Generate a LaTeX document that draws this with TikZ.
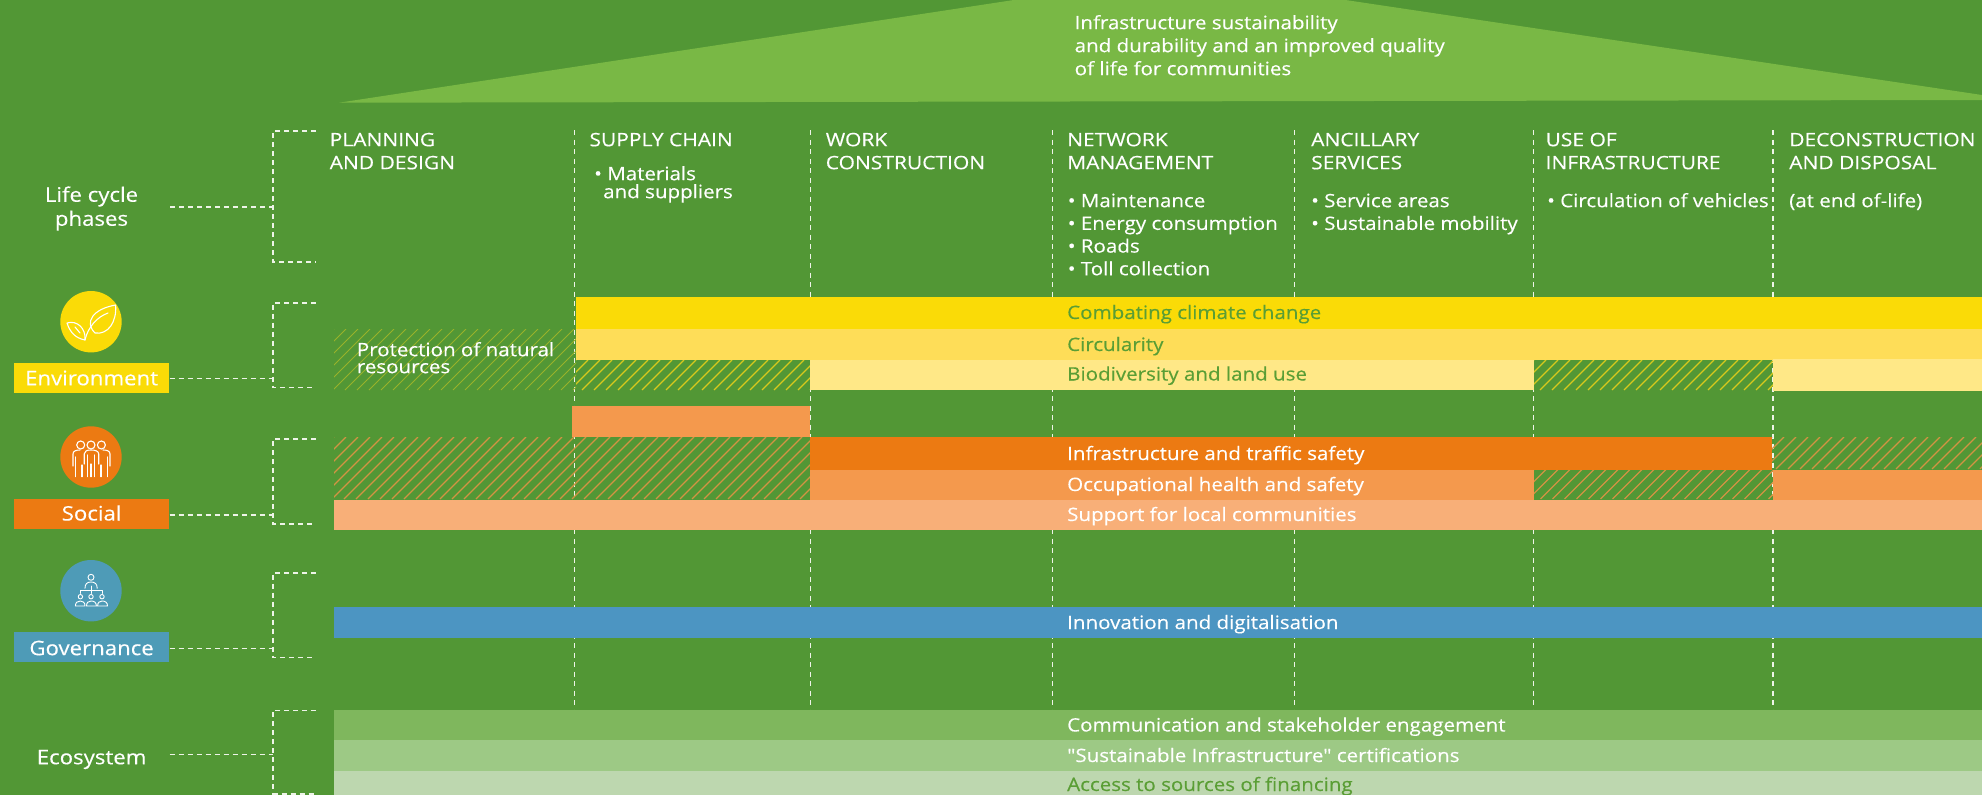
\documentclass[tikz,border=0pt]{standalone}
\usepackage{fontspec}
\setmainfont{Open Sans}[Ligatures=TeXOff,FakeStretch=1.11,FakeBold=0.3]
\newfontfamily\capsfont{Open Sans}[Ligatures=TeXOff,FakeStretch=1.135,FakeBold=0.3]
\definecolor{bg}{HTML}{529735}
\definecolor{roof}{HTML}{79B845}
\definecolor{yA}{HTML}{FADB07}
\definecolor{yB}{HTML}{FEDD58}
\definecolor{yC}{HTML}{FFE887}
\definecolor{oA}{HTML}{EC7A12}
\definecolor{oB}{HTML}{F4994D}
\definecolor{oC}{HTML}{F8AF78}
\definecolor{blueB}{HTML}{4C95C2}
\definecolor{blueC}{HTML}{4E9BB7}
\definecolor{gA}{HTML}{7FB75D}
\definecolor{gB}{HTML}{9DC985}
\definecolor{gC}{HTML}{BDD7AF}
\definecolor{gText}{HTML}{5A9E35}
\definecolor{hY}{HTML}{D8C91C}
\definecolor{hP}{HTML}{9AB22A}
\definecolor{hO}{HTML}{D39343}
\definecolor{dashc}{HTML}{EEF4E8}
\tikzset{
  dashline/.style={draw=dashc,line width=1.6pt,dash pattern=on 5pt off 4.5pt},
  txt/.style={inner sep=0pt,text=white,anchor=north west,align=left,font=\fontsize{18.5}{23}\selectfont},
  head/.style={txt,font=\capsfont\fontsize{18.5}{23}\selectfont},
  tight/.style={font=\fontsize{18.5}{22.7}\selectfont},
  barlabel/.style={inner sep=0pt,anchor=base west,font=\fontsize{18.5}{23}\selectfont},
  pillar/.style={inner sep=0pt,text=white,anchor=center,font=\fontsize{20}{23}\selectfont},
  icon/.style={draw=white,line width=1.1pt,line cap=round,line join=round,fill=none}
}
\newcommand{\hatchbox}[6][1.3]{%
  \begin{scope}
    \clip (#2,#3) rectangle (#4,#5);
    \pgfmathsetmacro{\hh}{#5-#3}
    \pgfmathsetmacro{\xs}{#2-\hh}
    \pgfmathsetmacro{\xn}{\xs+12}
    \foreach \xx in {\xs,\xn,...,#4} {
      \draw[#6,line width=#1pt] (\xx,#5) -- ++(\hh,-\hh);
    }
  \end{scope}}
\newcommand{\st}{\rule{0pt}{15pt}}
\begin{document}
\begin{tikzpicture}[x=1pt,y=-1pt]
\useasboundingbox (0,0) rectangle (1982,795);
\clip (0,0) rectangle (1982,795);
\fill[bg] (0,0) rectangle (1982,795);
% roof
\fill[roof] (339,102.7) -- (1178,-25) -- (1982,95) -- (1982,100) -- cycle;
\node[txt] (goal) at (1074.5,14) {\st Infrastructure sustainability\\and durability and an improved quality\\of life for communities};
% phase separators
\foreach \n/\x in {a/574.5,b/810.5,c/1052.6,d/1294.3,e/1533.5,f/1772.7}{
  \coordinate (top\n) at (\x,130);
  \coordinate (bot\n) at (\x,710);
  \draw[dashline] (top\n) -- (bot\n);
}
% phase headers
\node[head] (h1) at (329.5,131) {\st PLANNING\\AND DESIGN};
\node[head] (h2) at (589.3,131) {\st SUPPLY CHAIN};
\node[txt,font=\fontsize{18.5}{18}\selectfont] (h2b) at (594,165) {\st • Materials\\\hspace*{9pt}and suppliers};
\node[head] (h3) at (825.6,131) {\st WORK\\CONSTRUCTION};
\node[head] (h4) at (1067,131) {\st NETWORK\\MANAGEMENT};
\node[txt,tight] (h4b) at (1067.6,192) {\st • Maintenance\\• Energy consumption\\• Roads\\• Toll collection};
\node[head] (h5) at (1311,131) {\st ANCILLARY\\SERVICES};
\node[txt,tight] (h5b) at (1311,192) {\st • Service areas\\• Sustainable mobility};
\node[head] (h6) at (1545.4,131) {\st USE OF\\INFRASTRUCTURE};
\node[txt] (h6b) at (1547,192) {\st • Circulation of vehicles};
\node[head] (h7) at (1789,131) {\st DECONSTRUCTION\\AND DISPOSAL};
\node[txt] (h7b) at (1789,192) {\st (at end of-life)};
% hatched areas
\hatchbox[1]{334}{329}{576}{390}{hP}
\hatchbox{576}{360}{810}{390}{hY}
\hatchbox{1534}{360}{1773}{390}{hY}
\hatchbox{334}{437}{810}{499}{hO}
\hatchbox{1772}{437}{1982}{469}{hO}
\hatchbox{1534}{469.5}{1773}{499}{hO}
% bars
\fill[yA] (576,297) rectangle (1982,329);
\fill[yB] (576,329) rectangle (1982,359.5);
\fill[yC] (810,359.5) rectangle (1534,390);
\fill[yC] (1773,358.5) rectangle (1982,390.5);
\fill[oB] (572,406) rectangle (810,437);
\fill[oA] (810,437) rectangle (1772,469.5);
\fill[oB] (810,469.5) rectangle (1534,499.5);
\fill[oB] (1773,469.5) rectangle (1982,499.5);
\fill[oC] (334,499.5) rectangle (1982,530);
\fill[blueB] (334,607) rectangle (1982,637.7);
\fill[gA] (334,710) rectangle (1982,740);
\fill[gB] (334,740) rectangle (1982,770.7);
\fill[gC] (334,770.7) rectangle (1982,795);
% bar labels
\node[barlabel,text=gText] (l1) at (1067,319) {Combating climate change};
\node[barlabel,text=gText] (l2) at (1067,351) {Circularity};
\node[barlabel,text=gText] (l3) at (1067,380.5) {Biodiversity and land use};
\node[barlabel,text=white] (l4) at (1067,460) {Infrastructure and traffic safety};
\node[barlabel,text=white] (l5) at (1067,491) {Occupational health and safety};
\node[barlabel,text=white] (l6) at (1067,521) {Support for local communities};
\node[barlabel,text=white] (l7) at (1067,629) {Innovation and digitalisation};
\node[barlabel,text=white] (l8) at (1067,731.5) {Communication and stakeholder engagement};
\node[barlabel,text=white] (l9) at (1067,762) {"Sustainable Infrastructure" certifications};
\node[barlabel,text=gText] (l10) at (1067,791) {Access to sources of financing};
\node[txt,font=\fontsize{18.5}{17}\selectfont] (prot) at (356.7,341) {\st Protection of natural\\resources};
% pillar labels
\fill[yA] (14.2,363) rectangle (169,393);
\fill[oA] (14.2,499) rectangle (169,529);
\fill[blueC] (14.2,632) rectangle (169,661.7);
\node[pillar] (env) at (91.6,378) {Environment};
\node[pillar] (soc) at (91.6,513) {Social};
\node[pillar] (gov) at (91.6,648) {Governance};
\node[pillar] (eco) at (91.6,759.5) {Ecosystem};
\node[pillar,align=center,font=\fontsize{20}{24}\selectfont] (lc) at (91.5,208.5) {Life cycle\\phases};
% brackets
\foreach \n/\t/\b/\s/\sx in {lc/131/261.7/206.7/170,env/302.7/387.3/378.3/169.5,soc/439/523.7/515/169.5,gov/572.7/657.3/648.3/169.5,eco/710.3/793.7/754.3/169.5}{
  \coordinate (\n T) at (316,\t);
  \coordinate (\n B) at (316,\b);
  \coordinate (\n U) at (273,\t);
  \coordinate (\n D) at (273,\b);
  \coordinate (\n M) at (273,\s);
  \coordinate (\n S) at (\sx,\s);
  \draw[dashline,dash pattern=on 5pt off 4pt] (\n T) -- (\n U) -- (\n D) -- (\n B);
  \draw[dashline,dash pattern=on 5pt off 4pt] (\n S) -- (\n M);
}
% icons
\fill[yA] (91,321.7) circle (30.7);
\fill[oA] (91,457) circle (30.7);
\fill[blueC] (91,590.7) circle (30.7);
% leaf
\draw[icon] (95,333) .. controls (84,322) and (93,309) .. (115.6,305) .. controls (117,322) and (108,335) .. (95,333);
\draw[icon] (85,340) .. controls (88,327) and (97,317) .. (108,313);
\draw[icon] (67,323) .. controls (77,320) and (86,328) .. (85,340) .. controls (75,338) and (70,332) .. (67,323);
\draw[icon] (75,327) -- (80,333);
% people
\foreach \x in {80.7,91,101.4}{\draw[icon] (\x,445) circle (4);}
\draw[icon] (84.2,464) -- (84.2,454) .. controls (84.2,451) and (87,450) .. (91,450) .. controls (95,450) and (98.7,451) .. (98.7,454) -- (98.7,464);
\draw[icon] (87.5,455) -- (87.5,476.7) (91,464) -- (91,476.7) (94.7,455) -- (94.7,476.7);
\draw[icon] (73,466) -- (73,454) .. controls (73,451) and (76,450) .. (80,450);
\draw[icon] (75.5,457) -- (75.5,476.7) (82,465) -- (82,476.7);
\draw[icon] (110,466) -- (110,454) .. controls (110,451) and (107,450) .. (103,450);
\draw[icon] (107.5,457) -- (107.5,476.7) (101,465) -- (101,476.7);
% org chart
\draw[icon,line width=0.9pt] (91,577.3) circle (3);
\draw[icon,line width=0.9pt] (85,588.3) .. controls (85,584) and (87,582) .. (91,582) .. controls (95,582) and (97.2,584) .. (97.2,588.3);
\draw[icon,line width=0.9pt] (80.4,593.3) -- (80.4,590.7) -- (102.2,590.7) -- (102.2,593.3) (91,586) -- (91,593.3);
\foreach \x/\a/\b in {80.4/75.4/85,91/86.5/96.4,102/97.6/107.5}{
  \draw[icon,line width=0.9pt] (\x,596.7) circle (2.2);
  \draw[icon,line width=0.9pt] (\a,606) .. controls (\a,602.5) and (\a+2,601) .. (\x,601) .. controls (\b-2,601) and (\b,602.5) .. (\b,606) -- cycle;
}
\end{tikzpicture}
\end{document}
